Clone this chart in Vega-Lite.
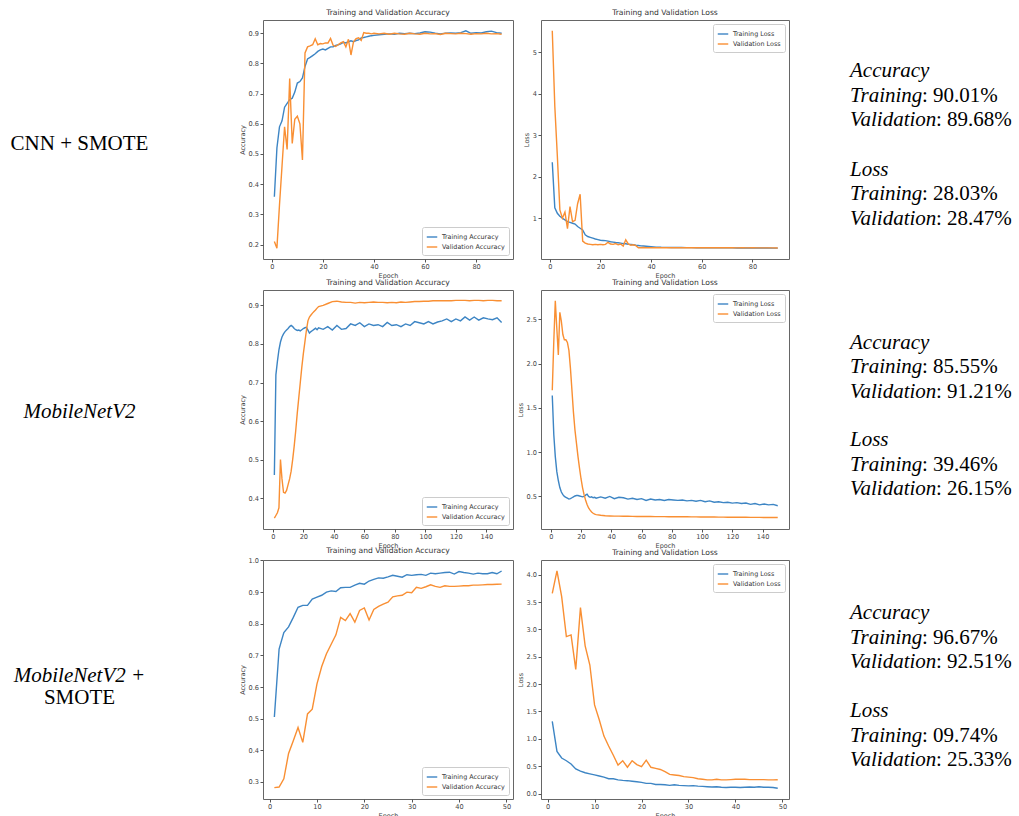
{
"$schema": "https://vega.github.io/schema/vega-lite/v6.json",
"padding": {"left": 0, "top": 8, "right": 0, "bottom": 0},
"background": "white",
"datasets": {
"stats": [
{"model":"CNN + SMOTE","metric":"Accuracy","set":"Training","value":90.01},
{"model":"CNN + SMOTE","metric":"Accuracy","set":"Validation","value":89.68},
{"model":"CNN + SMOTE","metric":"Loss","set":"Training","value":28.03},
{"model":"CNN + SMOTE","metric":"Loss","set":"Validation","value":28.47},
{"model":"MobileNetV2","metric":"Accuracy","set":"Training","value":85.55},
{"model":"MobileNetV2","metric":"Accuracy","set":"Validation","value":91.21},
{"model":"MobileNetV2","metric":"Loss","set":"Training","value":39.46},
{"model":"MobileNetV2","metric":"Loss","set":"Validation","value":26.15},
{"model":"MobileNetV2 + SMOTE","metric":"Accuracy","set":"Training","value":96.67},
{"model":"MobileNetV2 + SMOTE","metric":"Accuracy","set":"Validation","value":92.51},
{"model":"MobileNetV2 + SMOTE","metric":"Loss","set":"Training","value":9.74},
{"model":"MobileNetV2 + SMOTE","metric":"Loss","set":"Validation","value":25.33}
],
"cnn_smote": [
{"epoch":1,"accuracy":0.358,"val_accuracy":0.21,"loss":2.35,"val_loss":5.52},
{"epoch":2,"accuracy":0.52,"val_accuracy":0.188,"loss":1.25,"val_loss":3.7},
{"epoch":3,"accuracy":0.59,"val_accuracy":0.33,"loss":1.12,"val_loss":2.5},
{"epoch":4,"accuracy":0.61,"val_accuracy":0.46,"loss":1.05,"val_loss":1.2},
{"epoch":5,"accuracy":0.655,"val_accuracy":0.59,"loss":1.0,"val_loss":1.0},
{"epoch":6,"accuracy":0.668,"val_accuracy":0.515,"loss":0.96,"val_loss":1.15},
{"epoch":7,"accuracy":0.68,"val_accuracy":0.75,"loss":0.92,"val_loss":0.75},
{"epoch":8,"accuracy":0.685,"val_accuracy":0.535,"loss":0.9,"val_loss":1.28},
{"epoch":9,"accuracy":0.705,"val_accuracy":0.615,"loss":0.88,"val_loss":0.92},
{"epoch":10,"accuracy":0.735,"val_accuracy":0.625,"loss":0.86,"val_loss":0.95},
{"epoch":11,"accuracy":0.74,"val_accuracy":0.6,"loss":0.8,"val_loss":1.35},
{"epoch":12,"accuracy":0.752,"val_accuracy":0.48,"loss":0.76,"val_loss":1.58},
{"epoch":13,"accuracy":0.79,"val_accuracy":0.835,"loss":0.72,"val_loss":0.45},
{"epoch":14,"accuracy":0.815,"val_accuracy":0.855,"loss":0.6,"val_loss":0.4},
{"epoch":15,"accuracy":0.82,"val_accuracy":0.858,"loss":0.56,"val_loss":0.38},
{"epoch":16,"accuracy":0.826,"val_accuracy":0.862,"loss":0.54,"val_loss":0.37},
{"epoch":17,"accuracy":0.832,"val_accuracy":0.882,"loss":0.52,"val_loss":0.36},
{"epoch":18,"accuracy":0.84,"val_accuracy":0.862,"loss":0.5,"val_loss":0.37},
{"epoch":19,"accuracy":0.845,"val_accuracy":0.866,"loss":0.485,"val_loss":0.36},
{"epoch":20,"accuracy":0.848,"val_accuracy":0.865,"loss":0.47,"val_loss":0.37},
{"epoch":21,"accuracy":0.845,"val_accuracy":0.868,"loss":0.465,"val_loss":0.36},
{"epoch":22,"accuracy":0.85,"val_accuracy":0.868,"loss":0.46,"val_loss":0.37},
{"epoch":23,"accuracy":0.855,"val_accuracy":0.883,"loss":0.45,"val_loss":0.42},
{"epoch":24,"accuracy":0.855,"val_accuracy":0.86,"loss":0.435,"val_loss":0.38},
{"epoch":25,"accuracy":0.86,"val_accuracy":0.856,"loss":0.425,"val_loss":0.37},
{"epoch":26,"accuracy":0.862,"val_accuracy":0.862,"loss":0.415,"val_loss":0.39},
{"epoch":27,"accuracy":0.865,"val_accuracy":0.868,"loss":0.41,"val_loss":0.36},
{"epoch":28,"accuracy":0.87,"val_accuracy":0.872,"loss":0.4,"val_loss":0.38},
{"epoch":29,"accuracy":0.868,"val_accuracy":0.855,"loss":0.39,"val_loss":0.33},
{"epoch":30,"accuracy":0.872,"val_accuracy":0.88,"loss":0.385,"val_loss":0.48},
{"epoch":31,"accuracy":0.875,"val_accuracy":0.828,"loss":0.375,"val_loss":0.38},
{"epoch":32,"accuracy":0.872,"val_accuracy":0.872,"loss":0.37,"val_loss":0.35},
{"epoch":33,"accuracy":0.876,"val_accuracy":0.882,"loss":0.36,"val_loss":0.36},
{"epoch":34,"accuracy":0.878,"val_accuracy":0.885,"loss":0.35,"val_loss":0.34},
{"epoch":35,"accuracy":0.885,"val_accuracy":0.876,"loss":0.345,"val_loss":0.29},
{"epoch":36,"accuracy":0.886,"val_accuracy":0.902,"loss":0.335,"val_loss":0.29},
{"epoch":37,"accuracy":0.888,"val_accuracy":0.9,"loss":0.33,"val_loss":0.295},
{"epoch":38,"accuracy":0.89,"val_accuracy":0.9,"loss":0.325,"val_loss":0.29},
{"epoch":39,"accuracy":0.892,"val_accuracy":0.898,"loss":0.32,"val_loss":0.292},
{"epoch":40,"accuracy":0.893,"val_accuracy":0.9,"loss":0.315,"val_loss":0.29},
{"epoch":42,"accuracy":0.895,"val_accuracy":0.898,"loss":0.305,"val_loss":0.29},
{"epoch":44,"accuracy":0.897,"val_accuracy":0.9,"loss":0.3,"val_loss":0.292},
{"epoch":46,"accuracy":0.898,"val_accuracy":0.897,"loss":0.298,"val_loss":0.29},
{"epoch":48,"accuracy":0.897,"val_accuracy":0.9,"loss":0.296,"val_loss":0.29},
{"epoch":50,"accuracy":0.9,"val_accuracy":0.898,"loss":0.295,"val_loss":0.291},
{"epoch":52,"accuracy":0.899,"val_accuracy":0.897,"loss":0.294,"val_loss":0.289},
{"epoch":54,"accuracy":0.9,"val_accuracy":0.9,"loss":0.293,"val_loss":0.29},
{"epoch":56,"accuracy":0.899,"val_accuracy":0.898,"loss":0.292,"val_loss":0.29},
{"epoch":58,"accuracy":0.901,"val_accuracy":0.897,"loss":0.291,"val_loss":0.289},
{"epoch":60,"accuracy":0.905,"val_accuracy":0.9,"loss":0.29,"val_loss":0.288},
{"epoch":62,"accuracy":0.904,"val_accuracy":0.898,"loss":0.289,"val_loss":0.29},
{"epoch":64,"accuracy":0.9,"val_accuracy":0.899,"loss":0.288,"val_loss":0.289},
{"epoch":66,"accuracy":0.898,"val_accuracy":0.896,"loss":0.288,"val_loss":0.291},
{"epoch":68,"accuracy":0.9,"val_accuracy":0.9,"loss":0.287,"val_loss":0.288},
{"epoch":70,"accuracy":0.901,"val_accuracy":0.899,"loss":0.286,"val_loss":0.288},
{"epoch":72,"accuracy":0.9,"val_accuracy":0.898,"loss":0.285,"val_loss":0.289},
{"epoch":74,"accuracy":0.902,"val_accuracy":0.9,"loss":0.285,"val_loss":0.287},
{"epoch":76,"accuracy":0.908,"val_accuracy":0.899,"loss":0.284,"val_loss":0.288},
{"epoch":78,"accuracy":0.9,"val_accuracy":0.897,"loss":0.284,"val_loss":0.287},
{"epoch":80,"accuracy":0.902,"val_accuracy":0.899,"loss":0.283,"val_loss":0.288},
{"epoch":82,"accuracy":0.901,"val_accuracy":0.898,"loss":0.283,"val_loss":0.287},
{"epoch":84,"accuracy":0.905,"val_accuracy":0.9,"loss":0.282,"val_loss":0.286},
{"epoch":86,"accuracy":0.907,"val_accuracy":0.898,"loss":0.282,"val_loss":0.287},
{"epoch":88,"accuracy":0.902,"val_accuracy":0.899,"loss":0.281,"val_loss":0.286},
{"epoch":90,"accuracy":0.9001,"val_accuracy":0.8968,"loss":0.2803,"val_loss":0.2847}
],
"mobilenetv2": [
{"epoch":1,"accuracy":0.46,"val_accuracy":0.348,"loss":1.64,"val_loss":1.7},
{"epoch":2,"accuracy":0.72,"val_accuracy":0.355,"loss":1.2,"val_loss":2.25},
{"epoch":3,"accuracy":0.755,"val_accuracy":0.362,"loss":0.95,"val_loss":2.71},
{"epoch":4,"accuracy":0.785,"val_accuracy":0.375,"loss":0.78,"val_loss":2.4},
{"epoch":5,"accuracy":0.805,"val_accuracy":0.5,"loss":0.68,"val_loss":2.1},
{"epoch":6,"accuracy":0.818,"val_accuracy":0.45,"loss":0.6,"val_loss":2.58},
{"epoch":7,"accuracy":0.826,"val_accuracy":0.415,"loss":0.55,"val_loss":2.48},
{"epoch":8,"accuracy":0.832,"val_accuracy":0.413,"loss":0.52,"val_loss":2.33},
{"epoch":9,"accuracy":0.836,"val_accuracy":0.42,"loss":0.5,"val_loss":2.27},
{"epoch":10,"accuracy":0.84,"val_accuracy":0.435,"loss":0.49,"val_loss":2.27},
{"epoch":11,"accuracy":0.845,"val_accuracy":0.45,"loss":0.48,"val_loss":2.24},
{"epoch":12,"accuracy":0.848,"val_accuracy":0.47,"loss":0.47,"val_loss":2.15},
{"epoch":13,"accuracy":0.845,"val_accuracy":0.5,"loss":0.475,"val_loss":1.95},
{"epoch":14,"accuracy":0.84,"val_accuracy":0.535,"loss":0.485,"val_loss":1.7},
{"epoch":15,"accuracy":0.837,"val_accuracy":0.575,"loss":0.495,"val_loss":1.45},
{"epoch":16,"accuracy":0.835,"val_accuracy":0.62,"loss":0.505,"val_loss":1.25},
{"epoch":17,"accuracy":0.836,"val_accuracy":0.66,"loss":0.51,"val_loss":1.1},
{"epoch":18,"accuracy":0.834,"val_accuracy":0.7,"loss":0.51,"val_loss":0.95},
{"epoch":19,"accuracy":0.837,"val_accuracy":0.74,"loss":0.505,"val_loss":0.82},
{"epoch":20,"accuracy":0.84,"val_accuracy":0.775,"loss":0.5,"val_loss":0.7},
{"epoch":21,"accuracy":0.842,"val_accuracy":0.805,"loss":0.495,"val_loss":0.6},
{"epoch":22,"accuracy":0.843,"val_accuracy":0.835,"loss":0.5,"val_loss":0.52},
{"epoch":23,"accuracy":0.836,"val_accuracy":0.86,"loss":0.515,"val_loss":0.46},
{"epoch":24,"accuracy":0.828,"val_accuracy":0.87,"loss":0.525,"val_loss":0.41},
{"epoch":25,"accuracy":0.832,"val_accuracy":0.875,"loss":0.5,"val_loss":0.37},
{"epoch":26,"accuracy":0.835,"val_accuracy":0.88,"loss":0.49,"val_loss":0.345},
{"epoch":27,"accuracy":0.838,"val_accuracy":0.884,"loss":0.495,"val_loss":0.325},
{"epoch":28,"accuracy":0.841,"val_accuracy":0.888,"loss":0.485,"val_loss":0.31},
{"epoch":29,"accuracy":0.837,"val_accuracy":0.893,"loss":0.49,"val_loss":0.3},
{"epoch":30,"accuracy":0.842,"val_accuracy":0.897,"loss":0.48,"val_loss":0.295},
{"epoch":33,"accuracy":0.838,"val_accuracy":0.9,"loss":0.495,"val_loss":0.287},
{"epoch":36,"accuracy":0.845,"val_accuracy":0.905,"loss":0.48,"val_loss":0.282},
{"epoch":39,"accuracy":0.836,"val_accuracy":0.91,"loss":0.5,"val_loss":0.279},
{"epoch":42,"accuracy":0.848,"val_accuracy":0.911,"loss":0.475,"val_loss":0.277},
{"epoch":45,"accuracy":0.838,"val_accuracy":0.909,"loss":0.49,"val_loss":0.277},
{"epoch":48,"accuracy":0.84,"val_accuracy":0.908,"loss":0.485,"val_loss":0.276},
{"epoch":51,"accuracy":0.852,"val_accuracy":0.908,"loss":0.47,"val_loss":0.276},
{"epoch":54,"accuracy":0.848,"val_accuracy":0.906,"loss":0.48,"val_loss":0.275},
{"epoch":57,"accuracy":0.855,"val_accuracy":0.908,"loss":0.465,"val_loss":0.274},
{"epoch":60,"accuracy":0.845,"val_accuracy":0.907,"loss":0.475,"val_loss":0.274},
{"epoch":63,"accuracy":0.852,"val_accuracy":0.908,"loss":0.455,"val_loss":0.273},
{"epoch":66,"accuracy":0.848,"val_accuracy":0.909,"loss":0.47,"val_loss":0.273},
{"epoch":69,"accuracy":0.85,"val_accuracy":0.908,"loss":0.46,"val_loss":0.272},
{"epoch":72,"accuracy":0.845,"val_accuracy":0.908,"loss":0.465,"val_loss":0.272},
{"epoch":75,"accuracy":0.856,"val_accuracy":0.907,"loss":0.455,"val_loss":0.272},
{"epoch":78,"accuracy":0.848,"val_accuracy":0.908,"loss":0.465,"val_loss":0.271},
{"epoch":81,"accuracy":0.85,"val_accuracy":0.907,"loss":0.46,"val_loss":0.271},
{"epoch":84,"accuracy":0.845,"val_accuracy":0.909,"loss":0.455,"val_loss":0.27},
{"epoch":87,"accuracy":0.852,"val_accuracy":0.908,"loss":0.46,"val_loss":0.27},
{"epoch":90,"accuracy":0.848,"val_accuracy":0.909,"loss":0.45,"val_loss":0.27},
{"epoch":93,"accuracy":0.858,"val_accuracy":0.91,"loss":0.455,"val_loss":0.269},
{"epoch":96,"accuracy":0.855,"val_accuracy":0.91,"loss":0.445,"val_loss":0.269},
{"epoch":99,"accuracy":0.852,"val_accuracy":0.911,"loss":0.455,"val_loss":0.268},
{"epoch":102,"accuracy":0.858,"val_accuracy":0.911,"loss":0.44,"val_loss":0.268},
{"epoch":105,"accuracy":0.852,"val_accuracy":0.912,"loss":0.45,"val_loss":0.267},
{"epoch":108,"accuracy":0.857,"val_accuracy":0.912,"loss":0.435,"val_loss":0.267},
{"epoch":111,"accuracy":0.86,"val_accuracy":0.912,"loss":0.44,"val_loss":0.266},
{"epoch":114,"accuracy":0.865,"val_accuracy":0.912,"loss":0.43,"val_loss":0.266},
{"epoch":117,"accuracy":0.858,"val_accuracy":0.912,"loss":0.435,"val_loss":0.265},
{"epoch":120,"accuracy":0.865,"val_accuracy":0.913,"loss":0.425,"val_loss":0.265},
{"epoch":123,"accuracy":0.86,"val_accuracy":0.913,"loss":0.43,"val_loss":0.264},
{"epoch":126,"accuracy":0.87,"val_accuracy":0.913,"loss":0.42,"val_loss":0.264},
{"epoch":129,"accuracy":0.862,"val_accuracy":0.912,"loss":0.425,"val_loss":0.264},
{"epoch":132,"accuracy":0.87,"val_accuracy":0.913,"loss":0.41,"val_loss":0.263},
{"epoch":135,"accuracy":0.862,"val_accuracy":0.913,"loss":0.42,"val_loss":0.263},
{"epoch":138,"accuracy":0.868,"val_accuracy":0.912,"loss":0.405,"val_loss":0.263},
{"epoch":141,"accuracy":0.865,"val_accuracy":0.913,"loss":0.415,"val_loss":0.262},
{"epoch":144,"accuracy":0.863,"val_accuracy":0.913,"loss":0.405,"val_loss":0.262},
{"epoch":147,"accuracy":0.868,"val_accuracy":0.912,"loss":0.41,"val_loss":0.262},
{"epoch":150,"accuracy":0.8555,"val_accuracy":0.9121,"loss":0.3946,"val_loss":0.2615}
],
"mobilenetv2_smote": [
{"epoch":1,"accuracy":0.505,"val_accuracy":0.282,"loss":1.32,"val_loss":3.66},
{"epoch":2,"accuracy":0.72,"val_accuracy":0.284,"loss":0.77,"val_loss":4.07},
{"epoch":3,"accuracy":0.772,"val_accuracy":0.31,"loss":0.65,"val_loss":3.6},
{"epoch":4,"accuracy":0.79,"val_accuracy":0.39,"loss":0.6,"val_loss":2.87},
{"epoch":5,"accuracy":0.82,"val_accuracy":0.43,"loss":0.54,"val_loss":2.9},
{"epoch":6,"accuracy":0.852,"val_accuracy":0.472,"loss":0.45,"val_loss":2.27},
{"epoch":7,"accuracy":0.858,"val_accuracy":0.425,"loss":0.41,"val_loss":3.4},
{"epoch":8,"accuracy":0.858,"val_accuracy":0.515,"loss":0.38,"val_loss":2.7},
{"epoch":9,"accuracy":0.878,"val_accuracy":0.53,"loss":0.36,"val_loss":2.35},
{"epoch":10,"accuracy":0.884,"val_accuracy":0.61,"loss":0.34,"val_loss":1.62},
{"epoch":11,"accuracy":0.89,"val_accuracy":0.665,"loss":0.32,"val_loss":1.35},
{"epoch":12,"accuracy":0.9,"val_accuracy":0.705,"loss":0.3,"val_loss":1.05},
{"epoch":13,"accuracy":0.904,"val_accuracy":0.735,"loss":0.27,"val_loss":0.87},
{"epoch":14,"accuracy":0.902,"val_accuracy":0.765,"loss":0.27,"val_loss":0.7},
{"epoch":15,"accuracy":0.914,"val_accuracy":0.82,"loss":0.25,"val_loss":0.52},
{"epoch":16,"accuracy":0.915,"val_accuracy":0.81,"loss":0.24,"val_loss":0.6},
{"epoch":17,"accuracy":0.915,"val_accuracy":0.832,"loss":0.235,"val_loss":0.48},
{"epoch":18,"accuracy":0.922,"val_accuracy":0.805,"loss":0.225,"val_loss":0.6},
{"epoch":19,"accuracy":0.928,"val_accuracy":0.842,"loss":0.215,"val_loss":0.53},
{"epoch":20,"accuracy":0.925,"val_accuracy":0.85,"loss":0.205,"val_loss":0.49},
{"epoch":21,"accuracy":0.935,"val_accuracy":0.812,"loss":0.185,"val_loss":0.61},
{"epoch":22,"accuracy":0.94,"val_accuracy":0.845,"loss":0.185,"val_loss":0.48},
{"epoch":23,"accuracy":0.945,"val_accuracy":0.855,"loss":0.165,"val_loss":0.46},
{"epoch":24,"accuracy":0.944,"val_accuracy":0.862,"loss":0.165,"val_loss":0.44},
{"epoch":25,"accuracy":0.948,"val_accuracy":0.868,"loss":0.16,"val_loss":0.4},
{"epoch":26,"accuracy":0.953,"val_accuracy":0.885,"loss":0.15,"val_loss":0.35},
{"epoch":27,"accuracy":0.95,"val_accuracy":0.888,"loss":0.16,"val_loss":0.34},
{"epoch":28,"accuracy":0.947,"val_accuracy":0.89,"loss":0.15,"val_loss":0.33},
{"epoch":29,"accuracy":0.955,"val_accuracy":0.9,"loss":0.145,"val_loss":0.31},
{"epoch":30,"accuracy":0.953,"val_accuracy":0.898,"loss":0.14,"val_loss":0.3},
{"epoch":31,"accuracy":0.955,"val_accuracy":0.915,"loss":0.145,"val_loss":0.29},
{"epoch":32,"accuracy":0.956,"val_accuracy":0.912,"loss":0.135,"val_loss":0.27},
{"epoch":33,"accuracy":0.953,"val_accuracy":0.917,"loss":0.13,"val_loss":0.26},
{"epoch":34,"accuracy":0.96,"val_accuracy":0.923,"loss":0.125,"val_loss":0.25},
{"epoch":35,"accuracy":0.958,"val_accuracy":0.918,"loss":0.12,"val_loss":0.25},
{"epoch":36,"accuracy":0.96,"val_accuracy":0.915,"loss":0.125,"val_loss":0.26},
{"epoch":37,"accuracy":0.962,"val_accuracy":0.92,"loss":0.115,"val_loss":0.25},
{"epoch":38,"accuracy":0.963,"val_accuracy":0.918,"loss":0.11,"val_loss":0.25},
{"epoch":39,"accuracy":0.957,"val_accuracy":0.918,"loss":0.115,"val_loss":0.255},
{"epoch":40,"accuracy":0.965,"val_accuracy":0.919,"loss":0.115,"val_loss":0.26},
{"epoch":41,"accuracy":0.962,"val_accuracy":0.92,"loss":0.11,"val_loss":0.26},
{"epoch":42,"accuracy":0.96,"val_accuracy":0.92,"loss":0.115,"val_loss":0.26},
{"epoch":43,"accuracy":0.957,"val_accuracy":0.922,"loss":0.12,"val_loss":0.255},
{"epoch":44,"accuracy":0.96,"val_accuracy":0.922,"loss":0.115,"val_loss":0.255},
{"epoch":45,"accuracy":0.958,"val_accuracy":0.923,"loss":0.125,"val_loss":0.255},
{"epoch":46,"accuracy":0.958,"val_accuracy":0.924,"loss":0.115,"val_loss":0.255},
{"epoch":47,"accuracy":0.962,"val_accuracy":0.924,"loss":0.115,"val_loss":0.25},
{"epoch":48,"accuracy":0.958,"val_accuracy":0.925,"loss":0.11,"val_loss":0.25},
{"epoch":49,"accuracy":0.9667,"val_accuracy":0.9251,"loss":0.0974,"val_loss":0.2533}
]
},
"columns": 4,
"spacing": {"row": 31, "column": 28},
"bounds": "flush",
"resolve": {"scale": {"color": "independent"}, "legend": {"color": "independent"}},
"concat": [
{"width": 235, "height": 239, "view": {"stroke": null, "fill": "white"},
 "data": {"name": "stats"},
 "transform": [{"filter": "datum.model === 'CNN + SMOTE' && datum.metric === 'Accuracy' && datum.set === 'Training'"}],
 "mark": {"type": "text", "font": "Liberation Serif", "fontSize": 21, "color": "black", "dx": -38, "dy": 4},
 "encoding": {"text": {"field": "model"}}},
{"width": 250, "height": 239,
 "title": "Training and Validation Accuracy",
 "data": {"name": "cnn_smote"},
 "transform": [{"fold": ["accuracy", "val_accuracy"], "as": ["series", "value"]}],
 "mark": {"type": "line", "strokeWidth": 1.4, "clip": true},
 "encoding": {
  "x": {"field": "epoch", "type": "quantitative", "scale": {"domain": [-3.45, 94.45], "nice": false, "zero": false}, "axis": {"title": "Epoch", "values": [0, 20, 40, 60, 80]}},
  "y": {"field": "value", "type": "quantitative", "scale": {"domain": [0.152, 0.944], "nice": false, "zero": false}, "axis": {"title": "Accuracy", "values": [0.2, 0.3, 0.4, 0.5, 0.6, 0.7, 0.8, 0.9], "format": ".1f"}},
  "color": {"field": "series", "type": "nominal", "scale": {"domain": ["accuracy", "val_accuracy"], "range": ["#3d85c4", "#f98f33"]}, "legend": {"title": null, "orient": "bottom-right", "labelExpr": "datum.value === 'accuracy' ? 'Training Accuracy' : 'Validation Accuracy'"}}
 }},
{"width": 248, "height": 239,
 "title": "Training and Validation Loss",
 "data": {"name": "cnn_smote"},
 "transform": [{"fold": ["loss", "val_loss"], "as": ["series", "value"]}],
 "mark": {"type": "line", "strokeWidth": 1.4, "clip": true},
 "encoding": {
  "x": {"field": "epoch", "type": "quantitative", "scale": {"domain": [-3.45, 94.45], "nice": false, "zero": false}, "axis": {"title": "Epoch", "values": [0, 20, 40, 60, 80]}},
  "y": {"field": "value", "type": "quantitative", "scale": {"domain": [0.018, 5.78], "nice": false, "zero": false}, "axis": {"title": "Loss", "values": [1, 2, 3, 4, 5], "format": "d"}},
  "color": {"field": "series", "type": "nominal", "scale": {"domain": ["loss", "val_loss"], "range": ["#3d85c4", "#f98f33"]}, "legend": {"title": null, "orient": "top-right", "labelExpr": "datum.value === 'loss' ? 'Training Loss' : 'Validation Loss'"}}
 }},
{"width": 202, "height": 239, "view": {"stroke": null, "fill": "white"},
 "data": {"name": "stats"},
 "transform": [{"filter": "datum.model === 'CNN + SMOTE'"}, {"calculate": "datum.metric + ' ' + datum.set", "as": "line"}, {"calculate": "': ' + format(datum.value, '05.2f') + '%'", "as": "shown"}],
 "encoding": {
  "x": {"datum": 0, "type": "quantitative", "scale": {"domain": [0, 1]}, "axis": null},
  "y": {"field": "line", "type": "nominal", "scale": {"type": "point", "padding": 0, "domain": ["Accuracy", "Accuracy Training", "Accuracy Validation", " ", "Loss", "Loss Training", "Loss Validation"], "range": [51, 199]}, "axis": null}
 },
 "layer": [
  {"transform": [{"filter": "datum.set === 'Training'"}, {"calculate": "datum.metric", "as": "line"}], "mark": {"type": "text", "align": "left", "font": "Liberation Serif", "fontSize": 21, "fontStyle": "italic", "color": "black", "dx": 33}, "encoding": {"text": {"field": "metric"}}},
  {"mark": {"type": "text", "align": "left", "font": "Liberation Serif", "fontSize": 21, "fontStyle": "italic", "color": "black", "dx": 33}, "encoding": {"text": {"field": "set"}}},
  {"transform": [{"filter": "datum.set === 'Training'"}], "mark": {"type": "text", "align": "left", "font": "Liberation Serif", "fontSize": 21, "color": "black", "dx": 105}, "encoding": {"text": {"field": "shown"}}},
  {"transform": [{"filter": "datum.set === 'Validation'"}], "mark": {"type": "text", "align": "left", "font": "Liberation Serif", "fontSize": 21, "color": "black", "dx": 119}, "encoding": {"text": {"field": "shown"}}}
 ]},
{"width": 235, "height": 239, "view": {"stroke": null, "fill": "white"},
 "data": {"name": "stats"},
 "transform": [{"filter": "datum.model === 'MobileNetV2' && datum.metric === 'Accuracy' && datum.set === 'Training'"}],
 "mark": {"type": "text", "font": "Liberation Serif", "fontSize": 21, "fontStyle": "italic", "color": "black", "dx": -38, "dy": 2},
 "encoding": {"text": {"field": "model"}}},
{"width": 250, "height": 239,
 "title": "Training and Validation Accuracy",
 "data": {"name": "mobilenetv2"},
 "transform": [{"fold": ["accuracy", "val_accuracy"], "as": ["series", "value"]}],
 "mark": {"type": "line", "strokeWidth": 1.4, "clip": true},
 "encoding": {
  "x": {"field": "epoch", "type": "quantitative", "scale": {"domain": [-6.45, 157.45], "nice": false, "zero": false}, "axis": {"title": "Epoch", "values": [0, 20, 40, 60, 80, 100, 120, 140]}},
  "y": {"field": "value", "type": "quantitative", "scale": {"domain": [0.32, 0.94], "nice": false, "zero": false}, "axis": {"title": "Accuracy", "values": [0.4, 0.5, 0.6, 0.7, 0.8, 0.9], "format": ".1f"}},
  "color": {"field": "series", "type": "nominal", "scale": {"domain": ["accuracy", "val_accuracy"], "range": ["#3d85c4", "#f98f33"]}, "legend": {"title": null, "orient": "bottom-right", "labelExpr": "datum.value === 'accuracy' ? 'Training Accuracy' : 'Validation Accuracy'"}}
 }},
{"width": 248, "height": 239,
 "title": "Training and Validation Loss",
 "data": {"name": "mobilenetv2"},
 "transform": [{"fold": ["loss", "val_loss"], "as": ["series", "value"]}],
 "mark": {"type": "line", "strokeWidth": 1.4, "clip": true},
 "encoding": {
  "x": {"field": "epoch", "type": "quantitative", "scale": {"domain": [-6.45, 157.45], "nice": false, "zero": false}, "axis": {"title": "Epoch", "values": [0, 20, 40, 60, 80, 100, 120, 140]}},
  "y": {"field": "value", "type": "quantitative", "scale": {"domain": [0.132, 2.833], "nice": false, "zero": false}, "axis": {"title": "Loss", "values": [0.5, 1.0, 1.5, 2.0, 2.5], "format": ".1f"}},
  "color": {"field": "series", "type": "nominal", "scale": {"domain": ["loss", "val_loss"], "range": ["#3d85c4", "#f98f33"]}, "legend": {"title": null, "orient": "top-right", "labelExpr": "datum.value === 'loss' ? 'Training Loss' : 'Validation Loss'"}}
 }},
{"width": 202, "height": 239, "view": {"stroke": null, "fill": "white"},
 "data": {"name": "stats"},
 "transform": [{"filter": "datum.model === 'MobileNetV2'"}, {"calculate": "datum.metric + ' ' + datum.set", "as": "line"}, {"calculate": "': ' + format(datum.value, '05.2f') + '%'", "as": "shown"}],
 "encoding": {
  "x": {"datum": 0, "type": "quantitative", "scale": {"domain": [0, 1]}, "axis": null},
  "y": {"field": "line", "type": "nominal", "scale": {"type": "point", "padding": 0, "domain": ["Accuracy", "Accuracy Training", "Accuracy Validation", " ", "Loss", "Loss Training", "Loss Validation"], "range": [53, 199]}, "axis": null}
 },
 "layer": [
  {"transform": [{"filter": "datum.set === 'Training'"}, {"calculate": "datum.metric", "as": "line"}], "mark": {"type": "text", "align": "left", "font": "Liberation Serif", "fontSize": 21, "fontStyle": "italic", "color": "black", "dx": 33}, "encoding": {"text": {"field": "metric"}}},
  {"mark": {"type": "text", "align": "left", "font": "Liberation Serif", "fontSize": 21, "fontStyle": "italic", "color": "black", "dx": 33}, "encoding": {"text": {"field": "set"}}},
  {"transform": [{"filter": "datum.set === 'Training'"}], "mark": {"type": "text", "align": "left", "font": "Liberation Serif", "fontSize": 21, "color": "black", "dx": 105}, "encoding": {"text": {"field": "shown"}}},
  {"transform": [{"filter": "datum.set === 'Validation'"}], "mark": {"type": "text", "align": "left", "font": "Liberation Serif", "fontSize": 21, "color": "black", "dx": 119}, "encoding": {"text": {"field": "shown"}}}
 ]},
{"width": 235, "height": 239, "view": {"stroke": null, "fill": "white"},
 "data": {"name": "stats"},
 "transform": [{"filter": "datum.model === 'MobileNetV2 + SMOTE' && datum.metric === 'Accuracy' && datum.set === 'Training'"}],
 "layer": [
  {"mark": {"type": "text", "text": "MobileNetV2 +", "font": "Liberation Serif", "fontSize": 21, "fontStyle": "italic", "color": "black", "dx": -38, "dy": -4}, "encoding": {}},
  {"mark": {"type": "text", "text": "SMOTE", "font": "Liberation Serif", "fontSize": 21, "color": "black", "dx": -38, "dy": 18}, "encoding": {}}
 ]},
{"width": 250, "height": 239,
 "title": "Training and Validation Accuracy",
 "data": {"name": "mobilenetv2_smote"},
 "transform": [{"fold": ["accuracy", "val_accuracy"], "as": ["series", "value"]}],
 "mark": {"type": "line", "strokeWidth": 1.4, "clip": true},
 "encoding": {
  "x": {"field": "epoch", "type": "quantitative", "scale": {"domain": [-1.4, 51.4], "nice": false, "zero": false}, "axis": {"title": "Epoch", "values": [0, 10, 20, 30, 40, 50]}},
  "y": {"field": "value", "type": "quantitative", "scale": {"domain": [0.246, 1.0015], "nice": false, "zero": false}, "axis": {"title": "Accuracy", "values": [0.3, 0.4, 0.5, 0.6, 0.7, 0.8, 0.9, 1.0], "format": ".1f"}},
  "color": {"field": "series", "type": "nominal", "scale": {"domain": ["accuracy", "val_accuracy"], "range": ["#3d85c4", "#f98f33"]}, "legend": {"title": null, "orient": "bottom-right", "labelExpr": "datum.value === 'accuracy' ? 'Training Accuracy' : 'Validation Accuracy'"}}
 }},
{"width": 248, "height": 239,
 "title": "Training and Validation Loss",
 "data": {"name": "mobilenetv2_smote"},
 "transform": [{"fold": ["loss", "val_loss"], "as": ["series", "value"]}],
 "mark": {"type": "line", "strokeWidth": 1.4, "clip": true},
 "encoding": {
  "x": {"field": "epoch", "type": "quantitative", "scale": {"domain": [-1.4, 51.4], "nice": false, "zero": false}, "axis": {"title": "Epoch", "values": [0, 10, 20, 30, 40, 50]}},
  "y": {"field": "value", "type": "quantitative", "scale": {"domain": [-0.1, 4.27], "nice": false, "zero": false}, "axis": {"title": "Loss", "values": [0, 0.5, 1.0, 1.5, 2.0, 2.5, 3.0, 3.5, 4.0], "format": ".1f"}},
  "color": {"field": "series", "type": "nominal", "scale": {"domain": ["loss", "val_loss"], "range": ["#3d85c4", "#f98f33"]}, "legend": {"title": null, "orient": "top-right", "labelExpr": "datum.value === 'loss' ? 'Training Loss' : 'Validation Loss'"}}
 }},
{"width": 202, "height": 239, "view": {"stroke": null, "fill": "white"},
 "data": {"name": "stats"},
 "transform": [{"filter": "datum.model === 'MobileNetV2 + SMOTE'"}, {"calculate": "datum.metric + ' ' + datum.set", "as": "line"}, {"calculate": "': ' + format(datum.value, '05.2f') + '%'", "as": "shown"}],
 "encoding": {
  "x": {"datum": 0, "type": "quantitative", "scale": {"domain": [0, 1]}, "axis": null},
  "y": {"field": "line", "type": "nominal", "scale": {"type": "point", "padding": 0, "domain": ["Accuracy", "Accuracy Training", "Accuracy Validation", " ", "Loss", "Loss Training", "Loss Validation"], "range": [53, 200]}, "axis": null}
 },
 "layer": [
  {"transform": [{"filter": "datum.set === 'Training'"}, {"calculate": "datum.metric", "as": "line"}], "mark": {"type": "text", "align": "left", "font": "Liberation Serif", "fontSize": 21, "fontStyle": "italic", "color": "black", "dx": 33}, "encoding": {"text": {"field": "metric"}}},
  {"mark": {"type": "text", "align": "left", "font": "Liberation Serif", "fontSize": 21, "fontStyle": "italic", "color": "black", "dx": 33}, "encoding": {"text": {"field": "set"}}},
  {"transform": [{"filter": "datum.set === 'Training'"}], "mark": {"type": "text", "align": "left", "font": "Liberation Serif", "fontSize": 21, "color": "black", "dx": 105}, "encoding": {"text": {"field": "shown"}}},
  {"transform": [{"filter": "datum.set === 'Validation'"}], "mark": {"type": "text", "align": "left", "font": "Liberation Serif", "fontSize": 21, "color": "black", "dx": 119}, "encoding": {"text": {"field": "shown"}}}
 ]}
],
"config": {
 "font": "DejaVu Sans",
 "view": {"stroke": "#666", "strokeWidth": 1},
 "axis": {"grid": false, "domain": false, "labelFontSize": 6.6, "titleFontSize": 6.5, "labelColor": "#444", "titleColor": "#444", "tickColor": "#555", "tickSize": 3, "labelPadding": 1.5, "titlePadding": 2, "titleFontWeight": "normal", "labelFont": "DejaVu Sans", "titleFont": "DejaVu Sans"},
 "axisY": {"titlePadding": 3},
 "title": {"fontSize": 7.6, "fontWeight": "normal", "color": "#333", "offset": 3, "frame": "group", "font": "DejaVu Sans"},
 "legend": {"labelFontSize": 6.4, "labelColor": "#333", "symbolType": "stroke", "symbolStrokeWidth": 1.4, "symbolSize": 110, "strokeColor": "#ccc", "fillColor": "white", "padding": 4, "cornerRadius": 2, "rowPadding": 0, "offset": 4, "labelOffset": 4, "labelFont": "DejaVu Sans"}
}
}
